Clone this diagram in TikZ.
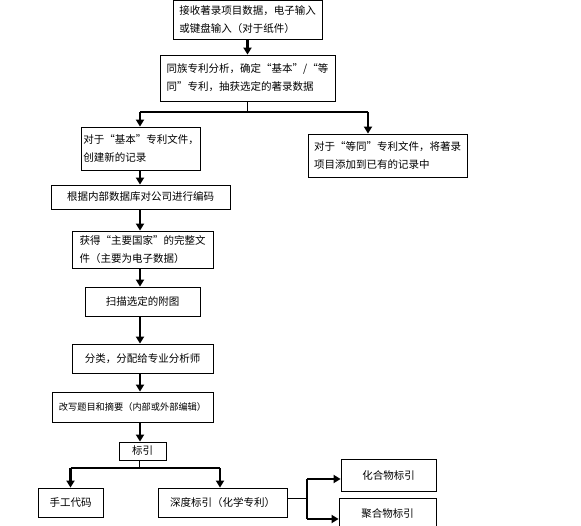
\documentclass[tikz,border=0pt]{standalone}
\usepackage{fontspec}
\setmainfont{Noto Sans CJK SC}
\usetikzlibrary{arrows.meta}
\begin{document}
\begin{tikzpicture}[x=1pt,y=-1pt,
  box/.style={draw,line width=0.8pt,rectangle,inner sep=2pt,font=\fontsize{10.5}{18}\selectfont},
  lbox/.style={box,align=left},
  cbox/.style={box,align=center},
  arr/.style={line width=2.6pt,-{Triangle[width=8pt,length=7pt]}},
  branch/.style={line width=1.8pt},
  stub/.style={line width=0.8pt}]
\useasboundingbox (0,0) rectangle (581,526);
% boxes
\node[lbox,minimum width=149pt,minimum height=39pt] (b1) at (247.5,20) {接收著录项目数据，电子输入\\或键盘输入（对于纸件）};
\node[lbox,minimum width=175pt,minimum height=46pt] (b2) at (247.5,78) {同族专利分析，确定“基本”/“等\\同”专利，抽获选定的著录数据};
\node[lbox,minimum width=116pt,minimum height=43pt] (b3) at (141,148.5) {对于“基本”专利文件，\\创建新的记录};
\node[lbox,minimum width=159pt,minimum height=43pt] (b4) at (387.5,155.5) {对于“等同”专利文件，将著录\\项目添加到已有的记录中};
\node[cbox,minimum width=179pt,minimum height=24pt] (b5) at (140.5,197) {根据内部数据库对公司进行编码};
\node[lbox,minimum width=141pt,minimum height=37pt] (b6) at (142.5,249.5) {获得“主要国家”的完整文\\件（主要为电子数据）};
\node[cbox,minimum width=115pt,minimum height=29pt] (b7) at (142.5,301.5) {扫描选定的附图};
\node[cbox,minimum width=141pt,minimum height=29pt] (b8) at (142.5,358.5) {分类，分配给专业分析师};
\node[cbox,minimum width=161pt,minimum height=30pt,font=\fontsize{9.2}{18}\selectfont] (b9) at (132.5,407) {改写题目和摘要（内部或外部编辑）};
\node[cbox,minimum width=47pt,minimum height=18pt] (b10) at (142.5,451) {标引};
\node[cbox,minimum width=65pt,minimum height=29pt] (b11) at (70.5,502.5) {手工代码};
\node[cbox,minimum width=129pt,minimum height=29pt] (b12) at (222.5,502.5) {深度标引（化学专利）};
\node[cbox,minimum width=95pt,minimum height=32pt] (b13) at (388.5,475) {化合物标引};
\node[cbox,minimum width=97pt,minimum height=32pt] (b14) at (387.5,514) {聚合物标引};
% helper coordinates
\coordinate (ax) at (140,0);
\coordinate (j0) at (247.5,112);
\coordinate (jl) at (140,112);
\coordinate (jr) at (368,112);
\coordinate (k0) at (139,468);
\coordinate (kl) at (70.5,468);
\coordinate (kr) at (220,468);
\coordinate (m0) at (307,498);
\coordinate (mt) at (307,479);
\coordinate (mb) at (307,519);
% connectors
\draw[arr] (b1) -- (b2);
\draw[stub] (b2.south) -- (j0);
\draw[branch] (jl) -- (jr);
\draw[arr] (jl) -- (jl |- b3.north);
\draw[arr] (jr) -- (jr |- b4.north);
\draw[arr] (b3.south -| ax) -- (b5.north -| ax);
\draw[arr] (b5.south -| ax) -- (b6.north -| ax);
\draw[arr] (b6.south -| ax) -- (b7.north -| ax);
\draw[arr] (b7.south -| ax) -- (b8.north -| ax);
\draw[arr] (b8.south -| ax) -- (b9.north -| ax);
\draw[arr] (b9.south -| ax) -- (b10.north -| ax);
\draw[stub] (b10.south -| k0) -- (k0);
\draw[branch] (kl) -- (kr);
\draw[arr] (kl) -- (kl |- b11.north);
\draw[arr] (kr) -- (kr |- b12.north);
\draw[stub] (b12.east |- m0) -- (m0);
\draw[branch] (mt) -- (mb);
\draw[arr] (mt) -- (mt -| b13.west);
\draw[arr] (mb) -- (mb -| b14.west);
\end{tikzpicture}
\end{document}
